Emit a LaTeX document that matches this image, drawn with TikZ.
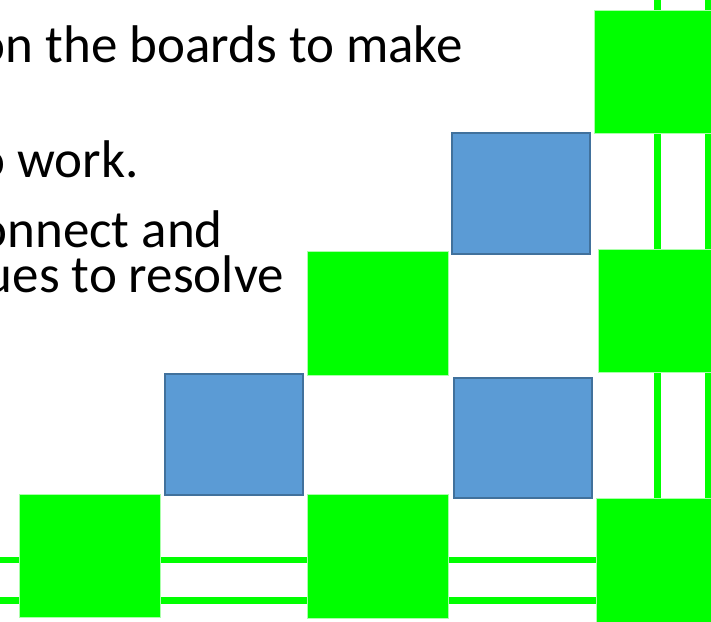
\documentclass[tikz,border=0pt]{standalone}
\usepackage{fontspec}
\setmainfont{Carlito}
\definecolor{bgreen}{RGB}{0,255,0}
\definecolor{edgegreen}{RGB}{170,255,170}
\definecolor{bfill}{RGB}{91,155,213}
\definecolor{bedge}{RGB}{65,113,156}
\tikzset{
  greenbox/.style={fill=bgreen, draw=edgegreen, line width=0.8pt},
  bluebox/.style={fill=bfill, draw=bedge, line width=2pt},
  gline/.style={draw=bgreen, line width=6.5pt},
  txt/.style={font=\fontsize{53}{60}\selectfont, inner sep=0pt, anchor=base east, text=black}
}
\begin{document}
\begin{tikzpicture}[x=1pt,y=-1pt]
\useasboundingbox (0,0) rectangle (711,621);
\clip (0,0) rectangle (711,621);
\fill[white] (0,0) rectangle (711,621);
% text
\node[txt] (t1) at (463,62) {on the boards to make};
\node[txt] (t2) at (139,177) {to work.};
\node[txt, text depth=0pt] (t3) at (223,247) {connect and};
\node[txt] (t4) at (284,292) {ues to resolve};
% connector lines
\coordinate (hl1a) at (-5,560);
\coordinate (hl1b) at (720,560);
\coordinate (hl2a) at (-5,600.5);
\coordinate (hl2b) at (720,600.5);
\coordinate (vl1a) at (657.5,-5);
\coordinate (vl1b) at (657.5,630);
\coordinate (vl2a) at (708,-5);
\coordinate (vl2b) at (708,630);
\draw[gline] (hl1a) -- (hl1b);
\draw[gline] (hl2a) -- (hl2b);
\draw[gline] (vl1a) -- (vl1b);
\draw[gline] (vl2a) -- (vl2b);
% green squares
\path[greenbox] (19,494) rectangle (160,617);
\path[greenbox] (307,251) rectangle (448,375);
\path[greenbox] (307,494) rectangle (448,618);
\path[greenbox] (594,10) rectangle (735,133);
\path[greenbox] (598,249) rectangle (739,372);
\path[greenbox] (596,498) rectangle (737,625);
% blue squares
\path[bluebox] (452,133) rectangle (590,254);
\path[bluebox] (165,374) rectangle (303,495);
\path[bluebox] (454,378) rectangle (592,498);
\end{tikzpicture}
\end{document}
